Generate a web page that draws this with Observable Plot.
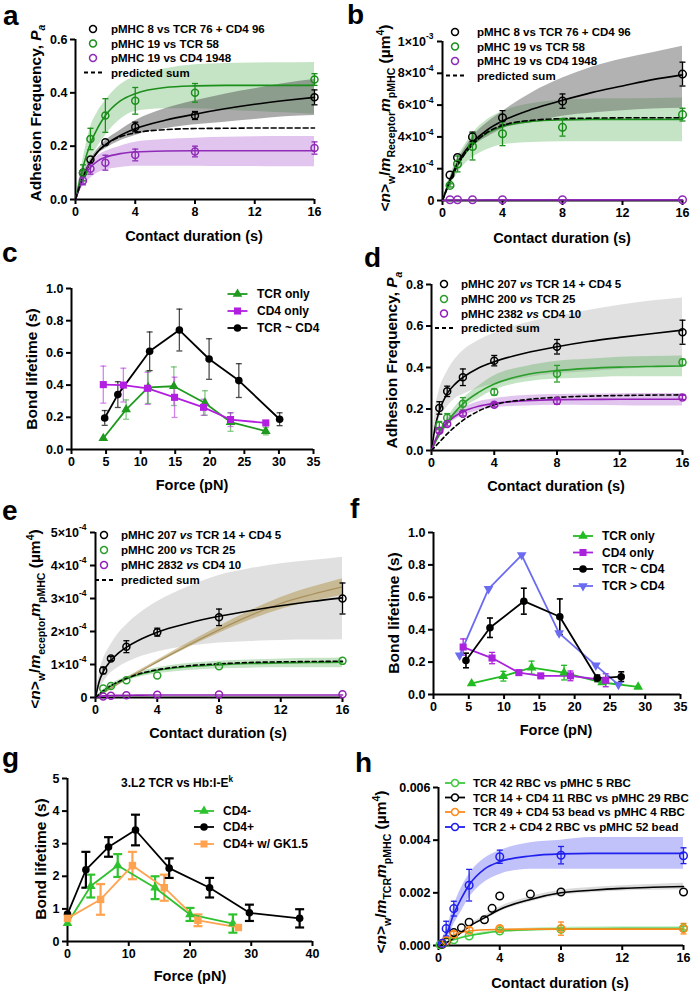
<!DOCTYPE html>
<html><head><meta charset="utf-8">
<script src="https://cdn.jsdelivr.net/npm/d3@7"></script>
<script src="https://cdn.jsdelivr.net/npm/@observablehq/plot@0.6"></script>
<style>
html,body{margin:0;padding:0;background:#fff;}
#page{position:relative;width:691px;height:991px;overflow:hidden;background:#fff;}
#page svg{position:absolute;left:0;top:0;}
</style></head><body><div id="page"></div>
<script>
// ================= DATA =================
// ---- Panel a : adhesion frequency vs contact duration ----
const aT = [0.5, 1, 2, 4, 8, 16];
const aBlack = [0.10, 0.15, 0.215, 0.272, 0.315, 0.383];
const aBlackErr = [0, 0, 0, 0.018, 0.015, 0.028];
const aGreen = [0.10, 0.227, 0.315, 0.37, 0.40, 0.45];
const aGreenErr = [0.03, 0.04, 0.063, 0.05, 0.035, 0.022];
const aPurple = [0.07, 0.115, 0.138, 0.167, 0.18, 0.193];
const aPurpleErr = [0.015, 0.02, 0.028, 0.022, 0.02, 0.023];
const aFitT = [0, 0.5, 1, 1.5, 2, 3, 4, 6, 8, 10, 12, 14, 16];
const aBlackFit = [0, 0.08, 0.14, 0.18, 0.205, 0.24, 0.265, 0.297, 0.32, 0.34, 0.357, 0.371, 0.383];
const aGreenFit = [0, 0.12, 0.21, 0.27, 0.315, 0.37, 0.397, 0.42, 0.426, 0.428, 0.428, 0.428, 0.428];
const aPurpleFit = [0, 0.08, 0.12, 0.145, 0.158, 0.172, 0.178, 0.182, 0.183, 0.183, 0.183, 0.183, 0.183];
const aSumFit = [0, 0.085, 0.14, 0.18, 0.205, 0.235, 0.25, 0.262, 0.266, 0.267, 0.268, 0.268, 0.268];
const aGreenLo = [0, 0.08, 0.15, 0.2, 0.24, 0.3, 0.33, 0.34, 0.34, 0.335, 0.33, 0.325, 0.32];
const aGreenHi = [0, 0.15, 0.27, 0.33, 0.37, 0.43, 0.46, 0.49, 0.505, 0.51, 0.512, 0.513, 0.514];
const aGrayLo = [0, 0.075, 0.13, 0.17, 0.19, 0.22, 0.24, 0.265, 0.28, 0.29, 0.30, 0.31, 0.315];
const aGrayHi = [0, 0.085, 0.15, 0.19, 0.22, 0.26, 0.295, 0.34, 0.37, 0.395, 0.415, 0.435, 0.45];
const aPurpleLo = [0, 0.05, 0.08, 0.1, 0.11, 0.12, 0.125, 0.125, 0.125, 0.124, 0.124, 0.123, 0.123];
const aPurpleHi = [0, 0.1, 0.14, 0.165, 0.18, 0.2, 0.215, 0.225, 0.23, 0.233, 0.235, 0.236, 0.236];
const aXTicks = [0, 4, 8, 12, 16];
const aYTicks = [0, 0.2, 0.4, 0.6];

// ---- Panel b : <n>/m m (units of 1e-4 µm^4) ----
const bT = [0.5, 1, 2, 4, 8, 16];
const bBlack = [1.6, 2.7, 4.0, 5.2, 6.25, 7.95];
const bBlackErr = [0, 0, 0.3, 0.45, 0.45, 0.75];
const bGreen = [0.95, 2.3, 3.4, 4.2, 4.6, 5.4];
const bGreenErr = [0.1, 0.5, 0.85, 0.75, 0.55, 0.4];
const bPurple = [0.05, 0.05, 0.05, 0.05, 0.05, 0.05];
const bFitT = [0, 0.5, 1, 1.5, 2, 3, 4, 6, 8, 10, 12, 14, 16];
const bBlackFit = [0, 1.3, 2.35, 3.1, 3.65, 4.45, 5.0, 5.75, 6.3, 6.8, 7.2, 7.6, 7.9];
const bGreenFit = [0, 1.2, 2.2, 2.95, 3.5, 4.25, 4.65, 4.98, 5.07, 5.1, 5.1, 5.1, 5.1];
const bSumFit = [0, 1.2, 2.2, 2.95, 3.5, 4.3, 4.72, 5.05, 5.15, 5.18, 5.2, 5.2, 5.2];
const bPurpleFit = [0, 0.03, 0.03, 0.03, 0.03, 0.04, 0.04, 0.04, 0.04, 0.04, 0.04, 0.04, 0.04];
const bGrayLo = [0, 1.2, 2.2, 2.95, 3.4, 4.0, 4.5, 4.9, 5.3, 5.5, 5.65, 5.75, 5.8];
const bGrayHi = [0, 1.4, 2.5, 3.3, 4.0, 4.9, 5.6, 6.8, 7.7, 8.4, 8.9, 9.3, 9.7];
const bGreenLo = [0, 0.9, 1.7, 2.3, 2.7, 3.2, 3.5, 3.65, 3.7, 3.7, 3.7, 3.7, 3.7];
const bGreenHi = [0, 1.5, 2.7, 3.5, 4.2, 5.1, 5.6, 6.1, 6.3, 6.38, 6.4, 6.42, 6.45];
const bXTicks = [0, 4, 8, 12, 16];
const bYTicks = [0, 2, 4, 6, 8, 10];
const bYMain = ["0", "2×10", "4×10", "6×10", "8×10", "1×10"];
const bYExp = ["", "-4", "-4", "-4", "-4", "-3"];

// ---- Panel c : bond lifetime vs force ----
const cTcrF = [4.6, 7.9, 11.1, 14.8, 19.3, 23.0, 28.1];
const cTcrLt = [0.07, 0.248, 0.386, 0.393, 0.289, 0.17, 0.114];
const cTcrErr = [0, 0.06, 0.1, 0.12, 0.076, 0.057, 0.023];
const cCd4F = [4.6, 7.5, 11.0, 14.9, 19.1, 23.0, 28.1];
const cCd4Lt = [0.403, 0.40, 0.38, 0.324, 0.262, 0.186, 0.165];
const cCd4Err = [0.115, 0.105, 0.1, 0.125, 0.05, 0.043, 0];
const cBothF = [4.8, 6.7, 11.3, 15.6, 19.9, 24.2, 30.1];
const cBothLt = [0.196, 0.341, 0.61, 0.742, 0.562, 0.428, 0.188];
const cBothErr = [0.046, 0.08, 0.12, 0.13, 0.126, 0.105, 0.04];
const cXTicks = [0, 5, 10, 15, 20, 25, 30, 35];
const cYTicks = [0, 0.2, 0.4, 0.6, 0.8, 1.0];

// ---- Panel d : adhesion frequency ----
const dT = [0.5, 1, 2, 4, 8, 16];
const dBlack = [0.205, 0.285, 0.353, 0.433, 0.50, 0.57];
const dBlackErr = [0.03, 0.025, 0.04, 0.025, 0.035, 0.058];
const dGreen = [0.12, 0.158, 0.225, 0.282, 0.37, 0.425];
const dGreenErr = [0.02, 0.02, 0.03, 0.015, 0.04, 0.015];
const dPurple = [0.095, 0.128, 0.177, 0.22, 0.238, 0.256];
const dPurpleErr = [0.01, 0.01, 0.01, 0.01, 0.015, 0.01];
const dFitT = [0, 0.25, 0.5, 1, 1.5, 2, 3, 4, 6, 8, 10, 12, 14, 16];
const dBlackFit = [0, 0.12, 0.19, 0.275, 0.32, 0.352, 0.398, 0.428, 0.47, 0.5, 0.525, 0.545, 0.563, 0.58];
const dGreenFit = [0, 0.04, 0.075, 0.135, 0.185, 0.225, 0.28, 0.32, 0.365, 0.385, 0.396, 0.402, 0.405, 0.407];
const dPurpleFit = [0, 0.05, 0.09, 0.135, 0.165, 0.187, 0.213, 0.227, 0.24, 0.245, 0.246, 0.247, 0.247, 0.247];
const dSumFit = [0, 0.02, 0.04, 0.08, 0.115, 0.145, 0.19, 0.22, 0.245, 0.256, 0.262, 0.265, 0.267, 0.268];
const dGrayLo = [0, 0.09, 0.15, 0.21, 0.25, 0.27, 0.3, 0.32, 0.35, 0.37, 0.38, 0.39, 0.40, 0.41];
const dGrayHi = [0, 0.2, 0.29, 0.38, 0.44, 0.48, 0.53, 0.565, 0.615, 0.645, 0.675, 0.70, 0.72, 0.735];
const dGreenLo = [0, 0.03, 0.06, 0.115, 0.16, 0.2, 0.25, 0.29, 0.33, 0.345, 0.35, 0.355, 0.355, 0.355];
const dGreenHi = [0, 0.05, 0.09, 0.155, 0.21, 0.25, 0.31, 0.36, 0.405, 0.43, 0.44, 0.45, 0.453, 0.455];
const dPurpleLo = [0, 0.04, 0.08, 0.12, 0.148, 0.167, 0.192, 0.205, 0.215, 0.218, 0.217, 0.216, 0.215, 0.215];
const dPurpleHi = [0, 0.06, 0.1, 0.15, 0.182, 0.205, 0.235, 0.25, 0.265, 0.27, 0.272, 0.274, 0.275, 0.275];
const dXTicks = [0, 4, 8, 12, 16];
const dYTicks = [0, 0.2, 0.4, 0.6, 0.8];

// ---- Panel e : (units of 1e-4 µm^4) ----
const eT = [0.5, 1, 2, 4, 8, 16];
const eBlack = [0.82, 1.18, 1.54, 1.98, 2.43, 3.0];
const eBlackErr = [0.1, 0.06, 0.18, 0.12, 0.25, 0.47];
const eGreen = [0.27, 0.35, 0.52, 0.67, 0.95, 1.11];
const ePurple = [0.03, 0.05, 0.07, 0.08, 0.09, 0.10];
const eFitT = [0, 0.25, 0.5, 1, 1.5, 2, 3, 4, 6, 8, 10, 12, 14, 16];
const eBlackFit = [0, 0.5, 0.78, 1.12, 1.35, 1.52, 1.78, 1.98, 2.25, 2.46, 2.63, 2.78, 2.91, 3.02];
const eGreenFit = [0, 0.1, 0.2, 0.35, 0.47, 0.57, 0.72, 0.82, 0.93, 0.99, 1.03, 1.05, 1.06, 1.07];
const eSumFit = [0, 0.1, 0.2, 0.36, 0.48, 0.58, 0.74, 0.84, 0.96, 1.02, 1.06, 1.08, 1.09, 1.1];
const ePurpleFit = [0, 0.03, 0.05, 0.06, 0.065, 0.07, 0.072, 0.074, 0.075, 0.076, 0.077, 0.077, 0.078, 0.078];
const eGrayLo = [0, 0.25, 0.45, 0.75, 0.92, 1.05, 1.25, 1.38, 1.55, 1.65, 1.7, 1.73, 1.74, 1.75];
const eGrayHi = [0, 0.75, 1.15, 1.6, 1.95, 2.2, 2.6, 2.9, 3.35, 3.7, 3.9, 4.05, 4.15, 4.25];
const eGreenLo = [0, 0.08, 0.16, 0.3, 0.41, 0.5, 0.64, 0.72, 0.82, 0.87, 0.89, 0.9, 0.9, 0.9];
const eGreenHi = [0, 0.12, 0.24, 0.4, 0.53, 0.62, 0.8, 0.9, 1.03, 1.1, 1.14, 1.17, 1.19, 1.2];
const eTanT = [0, 1, 2, 3, 4, 6, 8, 10, 12, 14, 16];
const eTan = [0, 0.28, 0.56, 0.82, 1.08, 1.58, 2.05, 2.48, 2.85, 3.12, 3.35];
const eTanLo = [0, 0.26, 0.53, 0.78, 1.03, 1.51, 1.95, 2.34, 2.67, 2.9, 3.1];
const eTanHi = [0, 0.3, 0.59, 0.86, 1.13, 1.65, 2.15, 2.62, 3.03, 3.34, 3.6];
const eXTicks = [0, 4, 8, 12, 16];
const eYTicks = [0, 1, 2, 3, 4, 5];
const eYMain = ["0", "1×10", "2×10", "3×10", "4×10", "5×10"];
const eYExp = ["", "-4", "-4", "-4", "-4", "-4"];

// ---- Panel f : bond lifetime vs force ----
const fTcrF = [5.4, 9.9, 13.9, 18.5, 23.9, 29.0];
const fTcrLt = [0.068, 0.113, 0.166, 0.135, 0.074, 0.047];
const fTcrErr = [0, 0.03, 0.04, 0.045, 0.01, 0];
const fCd4F = [4.2, 8.3, 12.1, 15.2, 19.4, 24.4];
const fCd4Lt = [0.293, 0.225, 0.135, 0.115, 0.115, 0.088];
const fCd4Err = [0.05, 0.035, 0.015, 0.01, 0.03, 0.04];
const fBothF = [4.6, 8.0, 12.8, 17.9, 23.2, 26.6];
const fBothLt = [0.21, 0.412, 0.576, 0.48, 0.1, 0.11];
const fBothErr = [0.045, 0.06, 0.08, 0.11, 0.02, 0.03];
const fRevF = [3.7, 7.8, 12.5, 17.8, 23.0, 26.2];
const fRevLt = [0.242, 0.652, 0.861, 0.379, 0.18, 0.061];
const fXTicks = [0, 5, 10, 15, 20, 25, 30, 35];
const fYTicks = [0, 0.2, 0.4, 0.6, 0.8, 1.0];

// ---- Panel g : 3.L2 TCR vs Hb:I-Ek ----
const gNegF = [0, 3.8, 8.2, 14.3, 20.0, 27.0];
const gNegLt = [0.56, 1.7, 2.33, 1.65, 0.83, 0.55];
const gNegErr = [0, 0.35, 0.35, 0.35, 0.2, 0.28];
const gPosF = [0, 3.0, 6.7, 11.1, 16.6, 23.2, 29.7, 37.9];
const gPosLt = [0.84, 2.2, 2.9, 3.42, 2.25, 1.65, 0.88, 0.71];
const gPosErr = [0, 0.55, 0.3, 0.47, 0.3, 0.3, 0.25, 0.28];
const gGkF = [0, 5.4, 10.6, 15.8, 21.3, 27.9];
const gGkLt = [0.71, 1.29, 2.33, 1.65, 0.65, 0.43];
const gGkErr = [0, 0.47, 0.42, 0.4, 0.18, 0];
const gXTicks = [0, 10, 20, 30, 40];
const gYTicks = [0, 1, 2, 3, 4, 5];

// ---- Panel h : <n>/m_TCR m_pMHC ----
const hGreenT = [0.1, 0.25, 0.5, 1, 2, 4, 8, 16];
const hGreen = [0.00003, 0.00007, 0.00013, 0.00022, 0.00036, 0.00055, 0.00062, 0.00066];
const hGreenErr = [0, 0, 0, 0, 0, 0.00005, 0.00005, 0.00007];
const hBlackT = [0.25, 0.5, 1, 1.5, 2, 3, 3.5, 4, 6, 8, 16];
const hBlack = [0.00005, 0.00015, 0.00049, 0.00067, 0.00088, 0.00098, 0.00141, 0.00188, 0.00195, 0.00203, 0.00203];
const hOrangeT = [0.25, 0.5, 1, 2, 4, 8, 16];
const hOrange = [0.00007, 0.00018, 0.00043, 0.00058, 0.00064, 0.00064, 0.00064];
const hOrangeErr = [0, 0, 0.0001, 0.0001, 0.0001, 0.00025, 0.0002];
const hBlueT = [0.25, 0.5, 1, 2, 4, 8, 16];
const hBlue = [0.00008, 0.00064, 0.0014, 0.00229, 0.00337, 0.00343, 0.00341];
const hBlueErr = [0, 0.00028, 0.00028, 0.0006, 0.00025, 0.00033, 0.0003];
const hFitT = [0, 0.5, 1, 1.5, 2, 3, 4, 6, 8, 10, 12, 14, 16];
const hBlueFit = [0, 0.0004, 0.0012, 0.0018, 0.0023, 0.0029, 0.00318, 0.0034, 0.00348, 0.0035, 0.0035, 0.0035, 0.0035];
const hBlackFit = [0, 0.0001, 0.00028, 0.0005, 0.00072, 0.00105, 0.00137, 0.00175, 0.002, 0.0021, 0.00217, 0.00221, 0.00224];
const hOrangeFit = [0, 0.00025, 0.0004, 0.0005, 0.00055, 0.0006, 0.00061, 0.00062, 0.00062, 0.00062, 0.00062, 0.00062, 0.00062];
const hGreenFit = [0, 0.00012, 0.00022, 0.0003, 0.00037, 0.00047, 0.00054, 0.0006, 0.00063, 0.00064, 0.00065, 0.00065, 0.00065];
const hBlueLo = [0, 0.0002, 0.0008, 0.0013, 0.0018, 0.0024, 0.0027, 0.0029, 0.0029, 0.0029, 0.0029, 0.0029, 0.0029];
const hBlueHi = [0, 0.0006, 0.0015, 0.0022, 0.0027, 0.0033, 0.0036, 0.0039, 0.004, 0.0041, 0.0041, 0.0041, 0.0041];
const hBlackLo = [0, 0.0001, 0.00026, 0.00046, 0.00066, 0.00097, 0.00128, 0.00165, 0.0019, 0.002, 0.00207, 0.0021, 0.00212];
const hBlackHi = [0, 0.0001, 0.0003, 0.00054, 0.00078, 0.00113, 0.00146, 0.00185, 0.0021, 0.0022, 0.00227, 0.00232, 0.00236];
const hGreenLo = [0, 0.0001, 0.0002, 0.00027, 0.00033, 0.00042, 0.00048, 0.00054, 0.00057, 0.00058, 0.00059, 0.00059, 0.00059];
const hGreenHi = [0, 0.00014, 0.00024, 0.00033, 0.00041, 0.00052, 0.0006, 0.00066, 0.00069, 0.0007, 0.00071, 0.00071, 0.00072];
const hXTicks = [0, 4, 8, 12, 16];
const hYTicks = [0, 0.002, 0.004, 0.006];
const hYLabels = ["0.000", "0.002", "0.004", "0.006"];

// ================= HELPERS =================
const FONT = '"Liberation Sans", Arial, Helvetica, sans-serif';
const W = 691, H = 991;
const page = document.getElementById("page");
const cap = {draw(ctx, size) { const w = Math.sqrt(size / Math.PI); ctx.moveTo(-w, 0); ctx.lineTo(w, 0); }};
const pts = (xs, ys, es) => xs.map((x, i) => ({x, y: ys[i], e: es ? es[i] : 0}));
const band = (xs, lo, hi) => xs.map((x, i) => ({x, lo: lo[i], hi: hi[i]}));
const crv = (xs, ys) => xs.map((x, i) => ({x, y: ys[i]}));
const f1 = d3.format(".1f"), f0 = d3.format("d");

function errorBars(data, color, {sw = 1.3, r = 3, opacity = 1} = {}) {
  const d = data.filter(p => p.e > 0);
  const o = {stroke: color, strokeWidth: sw, strokeOpacity: opacity};
  return [
    Plot.ruleX(d, {x: "x", y1: p => p.y - p.e, y2: p => p.y + p.e, ...o}),
    Plot.dot(d, {x: "x", y: p => p.y - p.e, symbol: cap, r, fill: "none", ...o}),
    Plot.dot(d, {x: "x", y: p => p.y + p.e, symbol: cap, r, fill: "none", ...o})
  ];
}
const area = (b, fill, op) => Plot.areaY(b, {x: "x", y1: "lo", y2: "hi", fill, fillOpacity: op, curve: "monotone-x"});
const fit = (c, stroke, extra = {}) => Plot.line(c, {x: "x", y: "y", stroke, strokeWidth: 1.6, curve: "monotone-x", ...extra});
const openDots = (p, stroke, r = 3.5) => Plot.dot(p, {x: "x", y: "y", r, stroke, strokeWidth: 1.5, fill: "none"});
// y tick labels of the form  a×10^b  drawn with the y scale (mantissa + smaller raised exponent)
function expLabels(ticks, mains, exps) {
  const rows = ticks.map((v, i) => ({v, main: mains[i], exp: exps[i]}));
  return [
    Plot.text(rows.filter(r => !r.exp), {frameAnchor: "left", y: "v", text: "main", textAnchor: "end", dx: -8}),
    Plot.text(rows.filter(r => r.exp), {frameAnchor: "left", y: "v", text: "main", textAnchor: "end", dx: -16.5}),
    Plot.text(rows.filter(r => r.exp), {frameAnchor: "left", y: "v", text: "exp", textAnchor: "start", dx: -16.5, dy: -5, fontSize: 8.5})
  ];
}

function drawPanel({frame, xDomain, yDomain, xTicks, yTicks, xFormat, yFormat, marks}) {
  const [l, r, t, b] = frame;
  const svg = Plot.plot({
    width: W, height: H,
    marginLeft: l, marginRight: W - r, marginTop: t, marginBottom: H - b,
    style: {background: "transparent", fontFamily: FONT, fontSize: "12.5px", fontWeight: "bold", color: "#000", overflow: "visible"},
    x: {type: "linear", domain: xDomain},
    y: {type: "linear", domain: yDomain},
    marks: [
      Plot.axisX({ticks: xTicks, tickFormat: xFormat, tickSize: 5, tickPadding: 3, strokeWidth: 2, label: null}),
      Plot.axisY({ticks: yTicks, tickFormat: yFormat, tickSize: 5, tickPadding: 3, strokeWidth: 2, label: null}),
      Plot.ruleY([yDomain[0]], {stroke: "#000", strokeWidth: 2}),
      Plot.ruleX([xDomain[0]], {stroke: "#000", strokeWidth: 2}),
      ...marks
    ]
  });
  page.appendChild(svg);
}
const lut = (ticks, labels) => d => labels[ticks.findIndex(t => Math.abs(t - d) < 1e-9)];
const blank = () => "";

// ================= PANELS =================
const BLK = "#000";
// a
const aG = "#1b8e1b", aP = "#8e2cb8";
drawPanel({frame: [75, 314, 39, 199], xDomain: [0, 16], yDomain: [0, 0.6], xTicks: aXTicks, yTicks: aYTicks, xFormat: f0, yFormat: f1,
  marks: [
    area(band(aFitT, aGreenLo, aGreenHi), "#2f9e2f", 0.28),
    area(band(aFitT, aGrayLo, aGrayHi), "#555", 0.5),
    area(band(aFitT, aPurpleLo, aPurpleHi), "#a040c8", 0.3),
    fit(crv(aFitT, aGreenFit), aG), fit(crv(aFitT, aBlackFit), BLK), fit(crv(aFitT, aPurpleFit), aP),
    fit(crv(aFitT, aSumFit), BLK, {strokeDasharray: "5,3"}),
    ...errorBars(pts(aT, aBlack, aBlackErr), BLK), ...errorBars(pts(aT, aGreen, aGreenErr), aG), ...errorBars(pts(aT, aPurple, aPurpleErr), aP),
    openDots(pts(aT, aBlack), BLK), openDots(pts(aT, aGreen), aG), openDots(pts(aT, aPurple), aP)
  ]});
// b
drawPanel({frame: [442, 682, 41, 200], xDomain: [0, 16], yDomain: [0, 10], xTicks: bXTicks, yTicks: bYTicks, xFormat: f0, yFormat: blank,
  marks: [
    ...expLabels(bYTicks, bYMain, bYExp),
    area(band(bFitT, bGreenLo, bGreenHi), "#2f9e2f", 0.28),
    area(band(bFitT, bGrayLo, bGrayHi), "#555", 0.45),
    fit(crv(bFitT, bGreenFit), aG), fit(crv(bFitT, bBlackFit), BLK),
    fit(crv(bFitT, bSumFit), BLK, {strokeDasharray: "5,3"}),
    fit(crv(bFitT, bPurpleFit), aP),
    ...errorBars(pts(bT, bBlack, bBlackErr), BLK), ...errorBars(pts(bT, bGreen, bGreenErr), aG),
    openDots(pts(bT, bBlack), BLK, 3.8), openDots(pts(bT, bGreen), aG, 3.8), openDots(pts(bT, bPurple), aP, 3.8)
  ]});
// c
const cG = "#1f9a1f", cM = "#b21fe0";
drawPanel({frame: [71, 313, 288, 449], xDomain: [0, 35], yDomain: [0, 1], xTicks: cXTicks, yTicks: cYTicks, xFormat: f0, yFormat: f1,
  marks: [
    ...errorBars(pts(cTcrF, cTcrLt, cTcrErr), cG, {opacity: 0.55}),
    ...errorBars(pts(cCd4F, cCd4Lt, cCd4Err), cM, {opacity: 0.55}),
    ...errorBars(pts(cBothF, cBothLt, cBothErr), BLK, {opacity: 0.7}),
    Plot.line(pts(cTcrF, cTcrLt), {x: "x", y: "y", stroke: cG, strokeWidth: 1.8}),
    Plot.line(pts(cCd4F, cCd4Lt), {x: "x", y: "y", stroke: cM, strokeWidth: 1.8}),
    Plot.line(pts(cBothF, cBothLt), {x: "x", y: "y", stroke: BLK, strokeWidth: 1.8}),
    Plot.dot(pts(cTcrF, cTcrLt), {x: "x", y: "y", symbol: "triangle", r: 3.6, fill: cG}),
    Plot.dot(pts(cCd4F, cCd4Lt), {x: "x", y: "y", symbol: "square", r: 4, fill: cM}),
    Plot.dot(pts(cBothF, cBothLt), {x: "x", y: "y", symbol: "circle", r: 3.8, fill: BLK})
  ]});
// d
const dG = "#2a9d2a", dP = "#9420b8";
drawPanel({frame: [431, 682, 284, 450], xDomain: [0, 16], yDomain: [0, 0.8], xTicks: dXTicks, yTicks: dYTicks, xFormat: f0, yFormat: f1,
  marks: [
    area(band(dFitT, dGrayLo, dGrayHi), "#999", 0.3),
    area(band(dFitT, dGreenLo, dGreenHi), "#2f9e2f", 0.28),
    area(band(dFitT, dPurpleLo, dPurpleHi), "#a040c8", 0.3),
    fit(crv(dFitT, dBlackFit), BLK), fit(crv(dFitT, dGreenFit), dG), fit(crv(dFitT, dPurpleFit), dP),
    fit(crv(dFitT, dSumFit), BLK, {strokeDasharray: "4,3"}),
    ...errorBars(pts(dT, dBlack, dBlackErr), BLK), ...errorBars(pts(dT, dGreen, dGreenErr), dG), ...errorBars(pts(dT, dPurple, dPurpleErr), dP),
    openDots(pts(dT, dBlack), BLK), openDots(pts(dT, dGreen), dG), openDots(pts(dT, dPurple), dP)
  ]});
// e
drawPanel({frame: [95, 342, 532, 697], xDomain: [0, 16], yDomain: [0, 5], xTicks: eXTicks, yTicks: eYTicks, xFormat: f0, yFormat: blank,
  marks: [
    ...expLabels(eYTicks, eYMain, eYExp),
    area(band(eFitT, eGrayLo, eGrayHi), "#999", 0.3),
    area(band(eFitT, eGreenLo, eGreenHi), "#2f9e2f", 0.28),
    area(band(eTanT, eTanLo, eTanHi), "#b39a55", 0.55),
    fit(crv(eTanT, eTan), "#a89060", {strokeWidth: 1.2}),
    fit(crv(eFitT, eBlackFit), BLK), fit(crv(eFitT, eGreenFit), dG), fit(crv(eFitT, ePurpleFit), dP),
    fit(crv(eFitT, eSumFit), BLK, {strokeDasharray: "4,3"}),
    ...errorBars(pts(eT, eBlack, eBlackErr), BLK),
    openDots(pts(eT, eBlack), BLK), openDots(pts(eT, eGreen), dG), openDots(pts(eT, ePurple), dP)
  ]});
// f
const fG = "#22bb22", fM = "#aa22dd", fB = "#6b6bf2";
drawPanel({frame: [433, 680, 532, 694], xDomain: [0, 35], yDomain: [0, 1], xTicks: fXTicks, yTicks: fYTicks, xFormat: f0, yFormat: f1,
  marks: [
    ...errorBars(pts(fTcrF, fTcrLt, fTcrErr), fG), ...errorBars(pts(fCd4F, fCd4Lt, fCd4Err), fM), ...errorBars(pts(fBothF, fBothLt, fBothErr), BLK, {sw: 1.6}),
    Plot.line(pts(fRevF, fRevLt), {x: "x", y: "y", stroke: fB, strokeWidth: 1.8}),
    Plot.line(pts(fTcrF, fTcrLt), {x: "x", y: "y", stroke: fG, strokeWidth: 1.8}),
    Plot.line(pts(fCd4F, fCd4Lt), {x: "x", y: "y", stroke: fM, strokeWidth: 1.8}),
    Plot.line(pts(fBothF, fBothLt), {x: "x", y: "y", stroke: BLK, strokeWidth: 1.8}),
    Plot.dot(pts(fRevF, fRevLt), {x: "x", y: "y", symbol: "triangle", rotate: 180, r: 3.6, fill: fB}),
    Plot.dot(pts(fTcrF, fTcrLt), {x: "x", y: "y", symbol: "triangle", r: 3.6, fill: fG}),
    Plot.dot(pts(fCd4F, fCd4Lt), {x: "x", y: "y", symbol: "square", r: 4, fill: fM}),
    Plot.dot(pts(fBothF, fBothLt), {x: "x", y: "y", symbol: "circle", r: 3.8, fill: BLK})
  ]});
// g
const gG = "#2ec22e", gO = "#ffa350";
drawPanel({frame: [67, 312, 778, 941], xDomain: [0, 40], yDomain: [0, 5], xTicks: gXTicks, yTicks: gYTicks, xFormat: f0, yFormat: f0,
  marks: [
    ...errorBars(pts(gNegF, gNegLt, gNegErr), gG, {sw: 2.2, r: 4.5}),
    ...errorBars(pts(gGkF, gGkLt, gGkErr), gO, {sw: 2.2, r: 4.5}),
    ...errorBars(pts(gPosF, gPosLt, gPosErr), BLK, {sw: 2.2, r: 4.5}),
    Plot.line(pts(gNegF, gNegLt), {x: "x", y: "y", stroke: gG, strokeWidth: 1.8}),
    Plot.line(pts(gGkF, gGkLt), {x: "x", y: "y", stroke: gO, strokeWidth: 1.8}),
    Plot.line(pts(gPosF, gPosLt), {x: "x", y: "y", stroke: BLK, strokeWidth: 1.8}),
    Plot.dot(pts(gNegF, gNegLt), {x: "x", y: "y", symbol: "triangle", r: 3.6, fill: gG}),
    Plot.dot(pts(gPosF, gPosLt), {x: "x", y: "y", symbol: "circle", r: 3.8, fill: BLK}),
    Plot.dot(pts(gGkF, gGkLt), {x: "x", y: "y", symbol: "square", r: 4.2, fill: gO})
  ]});
// h
const hG = "#3ec93e", hO = "#ff8a1e", hB = "#1f1fee";
drawPanel({frame: [438, 683, 787, 945], xDomain: [0, 16], yDomain: [0, 0.006], xTicks: hXTicks, yTicks: hYTicks, xFormat: f0, yFormat: lut(hYTicks, hYLabels),
  marks: [
    area(band(hFitT, hBlueLo, hBlueHi), "#5050f0", 0.35),
    area(band(hFitT, hBlackLo, hBlackHi), "#999", 0.35),
    area(band(hFitT, hGreenLo, hGreenHi), "#3ec93e", 0.3),
    fit(crv(hFitT, hGreenFit), hG), fit(crv(hFitT, hBlackFit), BLK), fit(crv(hFitT, hOrangeFit), hO), fit(crv(hFitT, hBlueFit), hB),
    ...errorBars(pts(hGreenT, hGreen, hGreenErr), hG), ...errorBars(pts(hOrangeT, hOrange, hOrangeErr), hO), ...errorBars(pts(hBlueT, hBlue, hBlueErr), hB),
    openDots(pts(hGreenT, hGreen), hG, 3.8), openDots(pts(hBlackT, hBlack), BLK, 3.8), openDots(pts(hOrangeT, hOrange), hO, 3.8), openDots(pts(hBlueT, hBlue), hB, 3.8)
  ]});

// ================= OVERLAY TEXT / LEGENDS =================
const ov = d3.select(page).append("svg").attr("width", W).attr("height", H)
  .style("font-family", FONT).style("font-weight", "bold");

function rich(x, y, segs, {size = 14, anchor = "middle", rotate = false, fill = "#000"} = {}) {
  const t = ov.append("text").attr("font-size", size).attr("text-anchor", anchor).attr("fill", fill)
    .attr("transform", rotate ? `translate(${x},${y}) rotate(-90)` : `translate(${x},${y})`);
  let cur = 0;
  for (const s of segs) {
    const [txt, style = ""] = Array.isArray(s) ? s : [s];
    const tok = style.split(" ");
    const ts = t.append("tspan").text(txt);
    let shift = 0;
    if (tok.includes("sub")) { shift = 0.3 * size; ts.attr("font-size", size * 0.68); }
    if (tok.includes("sup")) { shift = -0.42 * size; ts.attr("font-size", size * 0.68); }
    if (tok.includes("i")) ts.attr("font-style", "italic");
    if (shift !== cur) { ts.attr("dy", shift - cur); cur = shift; }
  }
  return t;
}

// panel letters
const letters = [["a", 3, 25], ["b", 347, 24], ["c", 2, 262], ["d", 364, 267], ["e", 2, 520], ["f", 350, 518], ["g", 2, 767], ["h", 355, 772]];
for (const [L, x, y] of letters) ov.append("text").attr("x", x).attr("y", y).attr("font-size", 28).text(L);

// axis titles
const XT = 14.5, YT = 15.5;
const durTitle = ["Contact duration (s)"];
rich(194, 241, durTitle, {size: XT});
rich(562, 243, durTitle, {size: XT});
rich(192, 490, ["Force (pN)"], {size: XT});
rich(556, 491, durTitle, {size: XT});
rich(218, 738, durTitle, {size: XT});
rich(556, 735, ["Force (pN)"], {size: XT});
rich(190, 981, ["Force (pN)"], {size: XT});
rich(560, 988, durTitle, {size: XT});

const adh = ["Adhesion Frequency, ", ["P", "i"], ["a", "i sub"]];
const nm = (sub1) => ["<", ["n", "i"], ">", ["w", "sub"], "/", ["m", "i"], [sub1, "sub"], ["m", "i"], ["pMHC", "sub"], " (µm", ["4", "sup"], ")"];
rich(40.5, 113, adh, {size: YT, rotate: true});
rich(390, 118, nm("Receptor"), {size: YT, rotate: true});
rich(37, 369, ["Bond lifetime (s)"], {size: YT, rotate: true});
rich(397, 360, adh, {size: YT, rotate: true});
rich(40, 619, nm("eceptor"), {size: YT, rotate: true});
rich(399, 613, ["Bond lifetime (s)"], {size: YT, rotate: true});
rich(46, 859, ["Bond lifetime (s)"], {size: YT, rotate: true});
rich(386, 872, nm("TCR"), {size: YT, rotate: true});

// g subtitle
rich(177, 787, ["3.L2 TCR vs Hb:I-E", ["k", "sup"]], {size: 12});

// legends
function legend({mx, tx, ys, items, size = 11.5, lineHalf = 9}) {
  items.forEach((it, i) => {
    const y = ys[i];
    const g = ov.append("g");
    if (it.type === "dash") {
      g.append("line").attr("x1", mx - lineHalf).attr("x2", mx + lineHalf).attr("y1", y).attr("y2", y)
        .attr("stroke", it.color).attr("stroke-width", 1.8).attr("stroke-dasharray", "4,3");
    } else {
      if (it.line) g.append("line").attr("x1", mx - lineHalf).attr("x2", mx + lineHalf).attr("y1", y).attr("y2", y)
        .attr("stroke", it.color).attr("stroke-width", 1.8);
      const open = it.type === "circle";
      g.append("path").attr("d", d3.symbol(it.symbol || d3.symbolCircle, it.area || 38)())
        .attr("transform", `translate(${mx},${y}) rotate(${it.rotate || 0})`)
        .attr("fill", open ? "#fff" : it.color).attr("stroke", open ? it.color : "none").attr("stroke-width", 1.5);
    }
    rich(tx, y + 0.36 * size, it.label, {size, anchor: "start"});
  });
}
const vs = ["vs", "i"];
legend({mx: 93, tx: 111, ys: [29, 43.5, 58, 72.5], items: [
  {type: "circle", color: BLK, label: ["pMHC 8 vs TCR 76 + CD4 96"]},
  {type: "circle", color: aG, label: ["pMHC 19 vs TCR 58"]},
  {type: "circle", color: aP, label: ["pMHC 19 vs CD4 1948"]},
  {type: "dash", color: BLK, label: ["predicted sum"]}]});
legend({mx: 455, tx: 477, ys: [32, 46.5, 61, 75.5], items: [
  {type: "circle", color: BLK, label: ["pMHC 8 vs TCR 76 + CD4 96"]},
  {type: "circle", color: aG, label: ["pMHC 19 vs TCR 58"]},
  {type: "circle", color: aP, label: ["pMHC 19 vs CD4 1948"]},
  {type: "dash", color: BLK, label: ["predicted sum"]}]});
legend({mx: 237.5, tx: 257, ys: [294, 311, 328], size: 12, lineHalf: 10, items: [
  {type: "fill", line: true, symbol: d3.symbolTriangle, area: 40, color: cG, label: ["TCR only"]},
  {type: "fill", line: true, symbol: d3.symbolSquare, area: 50, color: cM, label: ["CD4 only"]},
  {type: "fill", line: true, symbol: d3.symbolCircle, area: 45, color: BLK, label: ["TCR ~ CD4"]}]});
legend({mx: 444, tx: 461, ys: [284, 299, 313.5, 328], items: [
  {type: "circle", color: BLK, label: ["pMHC 207 ", vs, " TCR 14 + CD4 5"]},
  {type: "circle", color: dG, label: ["pMHC 200 ", vs, " TCR 25"]},
  {type: "circle", color: dP, label: ["pMHC 2382 ", vs, " CD4 10"]},
  {type: "dash", color: BLK, label: ["predicted sum"]}]});
legend({mx: 104, tx: 121, ys: [535, 550, 565, 580], items: [
  {type: "circle", color: BLK, label: ["pMHC 207 ", vs, " TCR 14 + CD4 5"]},
  {type: "circle", color: dG, label: ["pMHC 200 ", vs, " TCR 25"]},
  {type: "circle", color: dP, label: ["pMHC 2832 ", vs, " CD4 10"]},
  {type: "dash", color: BLK, label: ["predicted sum"]}]});
legend({mx: 583, tx: 602, ys: [536, 552.5, 569, 586], size: 12, lineHalf: 10, items: [
  {type: "fill", line: true, symbol: d3.symbolTriangle, area: 40, color: fG, label: ["TCR only"]},
  {type: "fill", line: true, symbol: d3.symbolSquare, area: 50, color: fM, label: ["CD4 only"]},
  {type: "fill", line: true, symbol: d3.symbolCircle, area: 45, color: BLK, label: ["TCR ~ CD4"]},
  {type: "fill", line: true, symbol: d3.symbolTriangle, rotate: 180, area: 40, color: fB, label: ["TCR > CD4"]}]});
legend({mx: 204, tx: 223, ys: [811, 827, 844], size: 12, lineHalf: 10, items: [
  {type: "fill", line: true, symbol: d3.symbolTriangle, area: 40, color: gG, label: ["CD4-"]},
  {type: "fill", line: true, symbol: d3.symbolCircle, area: 45, color: BLK, label: ["CD4+"]},
  {type: "fill", line: true, symbol: d3.symbolSquare, area: 50, color: gO, label: ["CD4+ w/ GK1.5"]}]});
legend({mx: 455, tx: 473, ys: [783, 797.5, 812, 827], lineHalf: 10, items: [
  {type: "circle", line: true, color: hG, label: ["TCR 42 RBC vs pMHC 5 RBC"]},
  {type: "circle", line: true, color: BLK, label: ["TCR 14 + CD4 11 RBC vs pMHC 29 RBC"]},
  {type: "circle", line: true, color: hO, label: ["TCR 49 + CD4 53 bead vs pMHC 4 RBC"]},
  {type: "circle", line: true, color: hB, label: ["TCR 2 + CD4 2 RBC vs pMHC 52 bead"]}]});
</script></body></html>
